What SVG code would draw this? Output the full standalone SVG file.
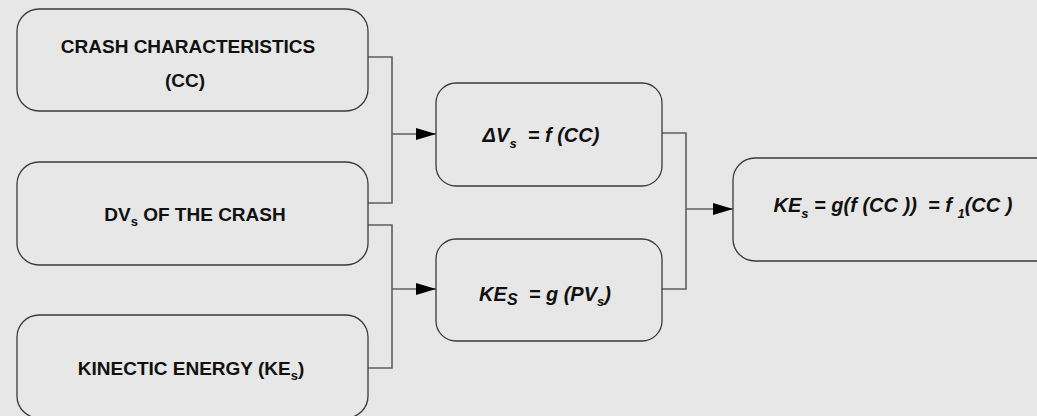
<svg xmlns="http://www.w3.org/2000/svg" width="1037" height="416" viewBox="0 0 1037 416">
  <style>
    .box { fill: #e7e7e7; stroke: #3a3a3a; stroke-width: 1.3; }
    .wire { fill: none; stroke: #5f5f5f; stroke-width: 1.6; }
    .lbl { font-family: "Liberation Sans", Arial, sans-serif; font-weight: bold; font-size: 19px; fill: #111; text-anchor: middle; white-space: pre; }
    .eq { font-style: italic; font-size: 20px; }
    .sub { font-size: 13px; }
  </style>
  <defs>
    <marker id="arrow" markerUnits="userSpaceOnUse" markerWidth="20" markerHeight="12" refX="20" refY="6" orient="auto">
      <path d="M0,0 L20,6 L0,12 Z" fill="#000"/>
    </marker>
  </defs>

  <rect width="1037" height="416" fill="#e7e7e7"/>

  <!-- connectors -->
  <g id="connectors">
    <path class="wire" d="M368,57 H392 V203 H368"/>
    <path class="wire" d="M392,134 H436" marker-end="url(#arrow)"/>
    <path class="wire" d="M368,225 H392 V368 H368"/>
    <path class="wire" d="M392,289 H436" marker-end="url(#arrow)"/>
    <path class="wire" d="M662,133 H686 V289 H662"/>
    <path class="wire" d="M686,209 H733" marker-end="url(#arrow)"/>
  </g>

  <!-- input nodes -->
  <g id="crash-characteristics">
    <rect class="box" x="17" y="9" width="351" height="102" rx="22"/>
    <text class="lbl" x="188" y="53">CRASH CHARACTERISTICS</text>
    <text class="lbl" x="185" y="87">(CC)</text>
  </g>

  <g id="dvs-of-crash">
    <rect class="box" x="17" y="162" width="351" height="103" rx="22"/>
    <text class="lbl" x="195" y="221">DV<tspan class="sub" dy="5">s</tspan><tspan dy="-5"> OF THE CRASH</tspan></text>
  </g>

  <g id="kinetic-energy">
    <rect class="box" x="17" y="315" width="351" height="103" rx="22"/>
    <text class="lbl" x="191" y="375">KINECTIC ENERGY (KE<tspan class="sub" dy="5">s</tspan><tspan dy="-5">)</tspan></text>
  </g>

  <!-- intermediate relations -->
  <g id="dv-function">
    <rect class="box" x="436" y="83" width="226" height="103" rx="20"/>
    <text class="lbl eq" x="541" y="142">ΔV<tspan class="sub" dy="6">s</tspan><tspan dy="-6">  = f (CC)</tspan></text>
  </g>

  <g id="ke-function">
    <rect class="box" x="436" y="239" width="226" height="102" rx="20"/>
    <text class="lbl eq" x="545" y="301">KE<tspan font-size="16" dy="4">S</tspan><tspan dy="-4">  = g (Ρ</tspan>V<tspan class="sub" dy="5">s</tspan><tspan dy="-5">)</tspan></text>
  </g>

  <!-- combined result -->
  <g id="ke-result">
    <rect class="box" x="733" y="158" width="330" height="103" rx="22"/>
    <text class="lbl eq" x="893" y="212">KE<tspan class="sub" dy="6">s</tspan><tspan dy="-6"> = g(f (CC ))  = f </tspan><tspan class="sub" dy="6">1</tspan><tspan dy="-6">(CC )</tspan></text>
  </g>
</svg>
